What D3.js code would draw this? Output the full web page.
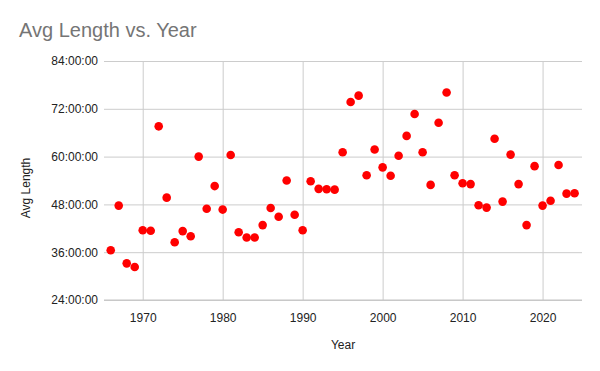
<!DOCTYPE html>
<html lang="en">
<head>
  <meta charset="UTF-8">
  <style>
    body { margin: 0; background: #fff; }
    svg { display: block; font-family: "Liberation Sans", Arial, sans-serif; }
    .grid line { stroke: #cccccc; stroke-width: 1; }
    .tick text { fill: #222; font-size: 12px; }
    .label { fill: #222; font-size: 12px; text-anchor: middle; }
    .title { fill: #757575; font-size: 20px; }
  </style>
</head>
<body>
  <script src="https://d3js.org/d3.v7.min.js"></script>
  <svg></svg>
  <script>

// data: year and average length in hours
const years = d3.range(1966, 2025);
const avgHours = [
  36.5, 47.7, 33.2, 32.3, 41.5, 41.4, 67.6, 49.7, 38.5, 41.3,
  40.0, 60.0, 46.9, 52.6, 46.7, 60.4, 41.0, 39.7, 39.7, 42.8,
  47.1, 44.9, 54.0, 45.4, 41.5, 53.8, 51.9, 51.8, 51.7, 61.1,
  73.7, 75.3, 55.3, 61.8, 57.3, 55.2, 60.2, 65.2, 70.7, 61.1,
  52.9, 68.5, 76.1, 55.3, 53.3, 53.1, 47.8, 47.2, 64.5, 48.7,
  60.5, 53.1, 42.8, 57.6, 47.7, 48.9, 57.9, 50.7, 50.8
];
const xTicks = [1970, 1980, 1990, 2000, 2010, 2020];
const yTicks = [24, 36, 48, 60, 72, 84];

const w = 600;
const h = 371;
const mLeft = 104, mRight = 582, mTop = 61, mBottom = 300;

const svg = d3.select("svg")
              .attr("width", w)
              .attr("height", h);

const xScale = d3.scaleLinear()
                 .domain([1965.16, 2024.93])
                 .range([mLeft, mRight]);

const yScale = d3.scaleLinear()
                 .domain([24, 84])
                 .range([mBottom, mTop]);

const fmt = v => {
  const hh = Math.floor(v);
  const mm = Math.round((v - hh) * 60);
  return `${hh}:${String(mm).padStart(2, "0")}:00`;
};

// gridlines
svg.append("g")
   .attr("class", "grid")
   .attr("transform", `translate(0, ${mBottom})`)
   .call(d3.axisBottom(xScale).tickValues(xTicks).tickSize(-(mBottom - mTop)).tickFormat(""))
   .call(g => g.select(".domain").remove());

svg.append("g")
   .attr("class", "grid")
   .attr("transform", `translate(${mLeft}, 0)`)
   .call(d3.axisLeft(yScale).tickValues(yTicks).tickSize(-(mRight - mLeft)).tickFormat(""))
   .call(g => g.select(".domain").remove());

// tick labels
svg.append("g")
   .attr("transform", `translate(0, ${mBottom})`)
   .call(d3.axisBottom(xScale).tickValues(xTicks).tickSize(0).tickPadding(13).tickFormat(d3.format("d")))
   .call(g => g.select(".domain").remove())
   .call(g => g.selectAll("text").attr("font-family", null).attr("font-size", null));

svg.append("g")
   .attr("transform", `translate(${mLeft}, 0)`)
   .call(d3.axisLeft(yScale).tickValues(yTicks).tickSize(0).tickPadding(6).tickFormat(fmt))
   .call(g => g.select(".domain").remove())
   .call(g => g.selectAll("text").attr("font-family", null).attr("font-size", null));

// baseline
svg.append("line")
   .attr("x1", mLeft).attr("x2", mRight)
   .attr("y1", yScale(24)).attr("y2", yScale(24))
   .attr("stroke", "#c4c4c4");

// points
svg.append("g")
   .selectAll("circle")
   .data(years.map((y, i) => [y, avgHours[i]]))
   .enter()
   .append("circle")
   .attr("cx", d => xScale(d[0]))
   .attr("cy", d => yScale(d[1]))
   .attr("r", 4.3)
   .attr("fill", "#ff0000");

// titles
svg.append("text")
   .attr("class", "title")
   .attr("x", 19)
   .attr("y", 37)
   .text("Avg Length vs. Year");

svg.append("text")
   .attr("class", "label")
   .attr("x", (mLeft + mRight) / 2)
   .attr("y", 349)
   .text("Year");

svg.append("text")
   .attr("class", "label")
   .attr("transform", "translate(30, 188) rotate(-90)")
   .text("Avg Length");

  </script>
</body>
</html>
